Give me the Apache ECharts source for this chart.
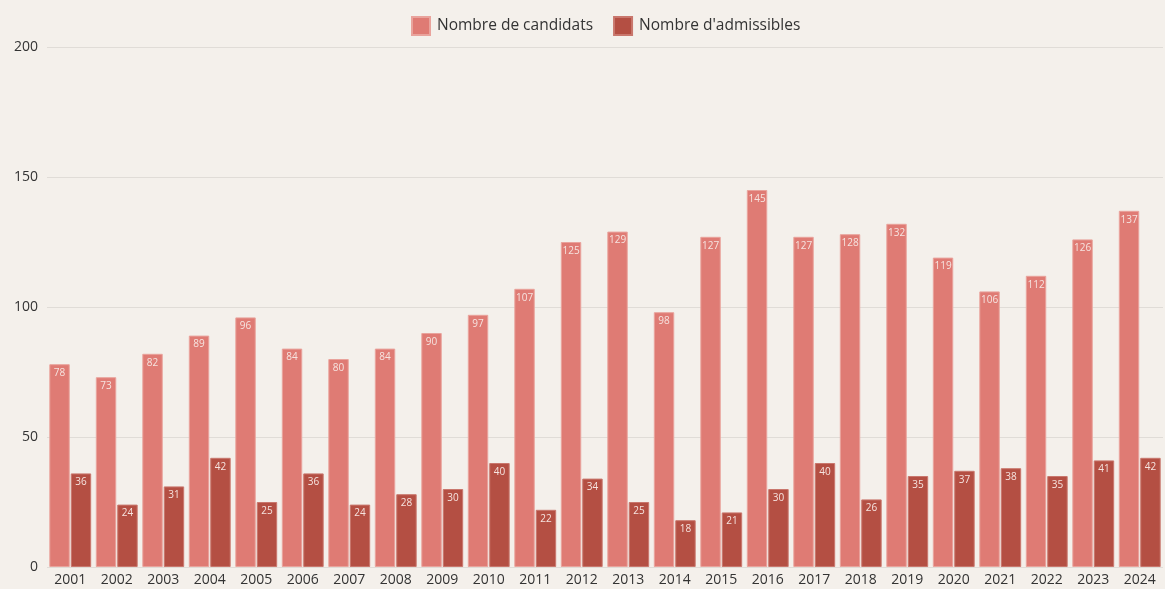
<!DOCTYPE html>
<html><head><meta charset="utf-8">
<script src="https://cdn.jsdelivr.net/npm/echarts@6/dist/echarts.min.js"></script>
<style>html,body{margin:0;padding:0;background:#f4f0eb;}#c{width:1165px;height:589px;}</style>
</head><body><div id="c"></div>
<script>
const years = ['2001','2002','2003','2004','2005','2006','2007','2008','2009','2010','2011','2012','2013','2014','2015','2016','2017','2018','2019','2020','2021','2022','2023','2024'];
const candidats = [78,73,82,89,96,84,80,84,90,97,107,125,129,98,127,145,127,128,132,119,106,112,126,137];
const admissibles = [36,24,31,42,25,36,24,28,30,40,22,34,25,18,21,30,40,26,35,37,38,35,41,42];
const yTicks = [0,50,100,150,200];

const font = '"Open Sans", "Noto Sans", sans-serif';
const chart = echarts.init(document.getElementById('c'));
const lbl = {show:true, position:'insideTop', distance:4, color:'#f6e4e0', fontSize:10, fontFamily:font};
chart.setOption({
  backgroundColor:'#f4f0eb',
  animation:false,
  legend:{top:11, left:406, itemWidth:18, itemHeight:18, itemGap:20, icon:'rect',
    textStyle:{fontSize:15.5, color:'#333', fontFamily:font, padding:[0,0,0,2]},
    data:['Nombre de candidats',"Nombre d'admissibles"]},
  grid:{left:47, right:2, top:47, bottom:22, containLabel:false},
  xAxis:{type:'category', data:years, axisLine:{show:false}, axisTick:{show:false},
    axisLabel:{color:'#333', fontSize:14, fontFamily:font, margin:6}},
  yAxis:{type:'value', min:yTicks[0], max:yTicks[yTicks.length-1], interval:50,
    axisLabel:{color:'#333', fontSize:14, fontFamily:font, margin:9},
    splitLine:{lineStyle:{color:'#e0dcd7', width:1}}},
  series:[
    {name:'Nombre de candidats', type:'bar', data:candidats, barGap:'5%', barCategoryGap:'10%',
     itemStyle:{color:'#df7b74', borderColor:'#e9a39c', borderWidth:1}, label:lbl},
    {name:"Nombre d'admissibles", type:'bar', data:admissibles,
     itemStyle:{color:'#b44f43', borderColor:'#c9776d', borderWidth:1}, label:lbl}
  ]
});
</script></body></html>
